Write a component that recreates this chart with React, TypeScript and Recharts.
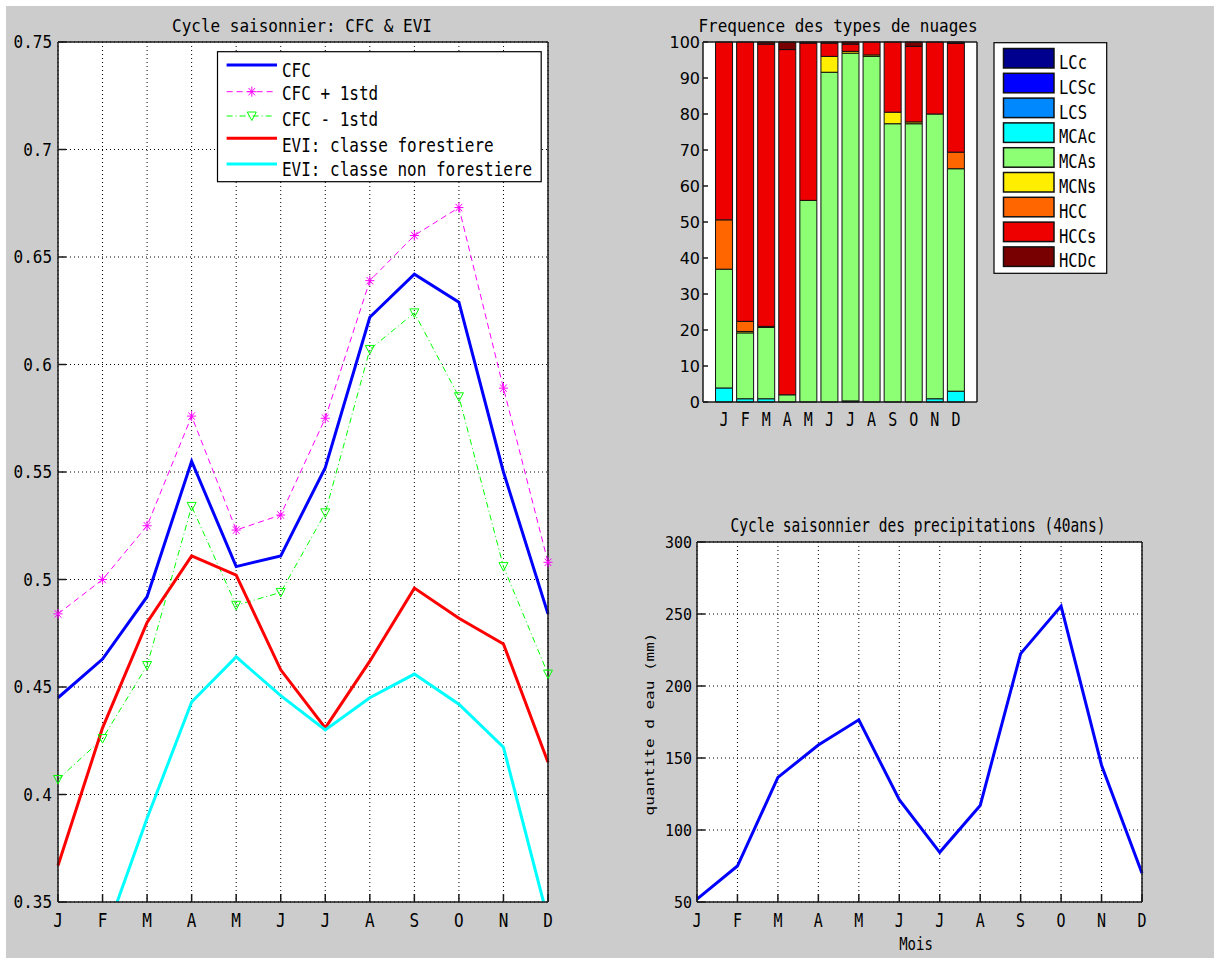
import React from 'react';
import { LineChart, Line, XAxis, YAxis, CartesianGrid, BarChart, Bar } from 'recharts';

const MONO = '"DejaVu Sans Mono", "Liberation Mono", monospace';
const SANS = '"DejaVu Sans", "Liberation Sans", sans-serif';

// ---------- data ----------
const months = ['J', 'F', 'M', 'A', 'M', 'J', 'J', 'A', 'S', 'O', 'N', 'D'];
const monthNumbers = [1, 2, 3, 4, 5, 6, 7, 8, 9, 10, 11, 12];

const cfc = [0.445, 0.463, 0.492, 0.555, 0.506, 0.511, 0.552, 0.622, 0.642, 0.629, 0.55, 0.484];
const cfcPlus = [0.484, 0.5, 0.525, 0.576, 0.523, 0.53, 0.575, 0.639, 0.66, 0.673, 0.589, 0.508];
const cfcMinus = [0.407, 0.426, 0.46, 0.534, 0.488, 0.494, 0.531, 0.607, 0.624, 0.585, 0.506, 0.456];
const eviForest = [0.367, 0.431, 0.48, 0.511, 0.502, 0.458, 0.431, 0.462, 0.496, 0.482, 0.47, 0.415];
const eviNonForest = [0.315, 0.331, 0.389, 0.443, 0.464, 0.446, 0.43, 0.445, 0.456, 0.442, 0.422, 0.342];
const cfcTicks = [0.35, 0.4, 0.45, 0.5, 0.55, 0.6, 0.65, 0.7, 0.75];

const LCc = [0, 0, 0, 0, 0, 0, 0.3, 0, 0, 0, 0, 0];
const LCSc = [0, 0, 0, 0, 0, 0, 0, 0, 0, 0, 0, 0];
const LCS = [0, 0, 0, 0, 0, 0, 0, 0, 0, 0, 0, 0];
const MCAc = [3.9, 0.9, 0.9, 0, 0, 0, 0, 0, 0, 0, 0.9, 3.0];
const MCAs = [33.0, 18.3, 19.8, 2.0, 56.0, 91.6, 96.6, 96.0, 77.3, 77.3, 79.1, 61.8];
const MCNs = [0, 0.4, 0.3, 0, 0, 4.4, 0.5, 0.4, 3.2, 0.5, 0, 0];
const HCC = [13.7, 2.8, 0, 0, 0, 0, 0, 0, 0, 0, 0, 4.6];
const HCCs = [49.4, 77.6, 78.4, 95.9, 43.7, 3.7, 2.0, 3.6, 19.5, 21.0, 20.0, 30.2];
const HCDc = [0, 0, 0.6, 2.1, 0.3, 0.3, 0.6, 0, 0, 1.2, 0, 0.4];
const cloudTypes = ['LCc', 'LCSc', 'LCS', 'MCAc', 'MCAs', 'MCNs', 'HCC', 'HCCs', 'HCDc'];
const cloudColors = ['#00008f', '#0000ff', '#0088ff', '#00ffff', '#8cff74', '#ffee00', '#ff6600', '#ee0000', '#780000'];
const cloudSeries = [LCc, LCSc, LCS, MCAc, MCAs, MCNs, HCC, HCCs, HCDc];
const cloudTicks = [0, 10, 20, 30, 40, 50, 60, 70, 80, 90, 100];

const precip = [52, 75, 136.5, 159, 176.5, 121, 84.5, 117, 222.5, 255.5, 145, 70];
const rainTicks = [50, 100, 150, 200, 250, 300];

const lineData = monthNumbers.map((x, i) => ({
  x,
  cfc: cfc[i],
  cfcPlus: cfcPlus[i],
  cfcMinus: cfcMinus[i],
  forest: eviForest[i],
  nonForest: eviNonForest[i],
}));
const barData = monthNumbers.map((x, i) => {
  const row: any = { x };
  cloudTypes.forEach((t, k) => (row[t] = cloudSeries[k][i]));
  return row;
});
const rainData = monthNumbers.map((x, i) => ({ x, p: precip[i] }));

// ---------- helpers ----------
const AXL = { stroke: '#1a1a1a', strokeWidth: 1.5 };

function T(props: {
  x: number; y: number; size: number; sy?: number; anchor?: 'start' | 'middle' | 'end';
  family?: string; rotate?: number; children: React.ReactNode;
}) {
  const { x, y, size, sy = 1, anchor = 'start', family = MONO, rotate = 0, children } = props;
  return (
    <text
      transform={`translate(${x},${y}) rotate(${rotate}) scale(1,${sy})`}
      fontFamily={family}
      fontSize={size}
      textAnchor={anchor}
      fill="#000"
    >
      {children}
    </text>
  );
}

function makeTick(o: { fs: number; sy: number; dx: number; dy: number; anchor: 'start' | 'middle' | 'end'; fmt: (v: number) => string; family?: string }) {
  return (p: any) => (
    <T x={p.x + o.dx} y={p.y + o.dy} size={o.fs} sy={o.sy} anchor={o.anchor} family={o.family}>
      {o.fmt(p.payload.value)}
    </T>
  );
}
const monthFmt = (v: number) => months[Math.round(v) - 1] ?? '';

const Star = (p: any) => {
  const { cx, cy } = p;
  if (cx == null || cy == null) return <g key={p.index} />;
  return (
    <g key={p.index} stroke="#ff00ff" strokeWidth={1}>
      <line x1={cx - 4.5} y1={cy} x2={cx + 4.5} y2={cy} />
      <line x1={cx} y1={cy - 5} x2={cx} y2={cy + 5} />
      <line x1={cx - 3.3} y1={cy - 3.7} x2={cx + 3.3} y2={cy + 3.7} />
      <line x1={cx - 3.3} y1={cy + 3.7} x2={cx + 3.3} y2={cy - 3.7} />
    </g>
  );
};
const TriDown = (p: any) => {
  const { cx, cy } = p;
  if (cx == null || cy == null) return <g key={p.index} />;
  return (
    <polygon
      key={p.index}
      points={`${cx - 4.5},${cy - 4} ${cx + 4.5},${cy - 4} ${cx},${cy + 4.5}`}
      fill="none"
      stroke="#00ff00"
      strokeWidth={1}
    />
  );
};

const legendRows = [
  { label: 'CFC', color: '#0000ff', width: 3, dash: undefined as string | undefined, marker: '', lineY: 65, textY: 76.7 },
  { label: 'CFC + 1std', color: '#ff00ff', width: 1, dash: '6 4', marker: 'star', lineY: 91.7, textY: 100 },
  { label: 'CFC - 1std', color: '#00ff00', width: 1, dash: '6 3 1 3', marker: 'tri', lineY: 116, textY: 126 },
  { label: 'EVI: classe forestiere', color: '#ff0000', width: 3, dash: undefined, marker: '', lineY: 138.3, textY: 151.7 },
  { label: 'EVI: classe non forestiere', color: '#00ffff', width: 3, dash: undefined, marker: '', lineY: 164, textY: 175.7 },
];

export default function App() {
  return (
    <div style={{ position: 'absolute', left: 0, top: 0, width: 1214, height: 958, background: '#fff' }}>
      <div style={{ position: 'absolute', left: 6, top: 6, width: 1208, height: 952, background: '#cccccc' }} />

      {/* Left: CFC & EVI */}
      <div style={{ position: 'absolute', left: 0, top: 0 }}>
        <LineChart width={600} height={958} data={lineData} margin={{ top: 40, right: 50, bottom: 26, left: 8 }}>
          <CartesianGrid stroke="#000" strokeDasharray="1 3" fill="#fff" fillOpacity={1} />
          <XAxis
            dataKey="x" type="number" domain={[1, 12]} ticks={monthNumbers} interval={0} height={30}
            tickSize={-8} tickMargin={8} axisLine={AXL} tickLine={AXL}
            tick={makeTick({ fs: 16, sy: 1.25, dx: 0, dy: 24.5, anchor: 'middle', fmt: monthFmt })}
          />
          <XAxis
            xAxisId="t" orientation="top" dataKey="x" type="number" domain={[1, 12]} ticks={monthNumbers} interval={0}
            height={2} tickSize={-8} axisLine={AXL} tickLine={AXL} tick={false}
          />
          <YAxis
            type="number" domain={[0.35, 0.75]} ticks={cfcTicks} interval={0} allowDataOverflow width={50}
            tickSize={-8} tickMargin={8} axisLine={AXL} tickLine={AXL}
            tick={makeTick({ fs: 16, sy: 1.1, dx: -6, dy: 6.4, anchor: 'end', fmt: (v) => String(v) })}
          />
          <YAxis
            yAxisId="r" orientation="right" type="number" domain={[0.35, 0.75]} ticks={cfcTicks} interval={0}
            allowDataOverflow width={2} tickSize={-8} axisLine={AXL} tickLine={AXL} tick={false}
          />
          <Line type="linear" dataKey="cfc" stroke="#0000ff" strokeWidth={3} dot={false} isAnimationActive={false} />
          <Line type="linear" dataKey="cfcPlus" stroke="#ff00ff" strokeWidth={1} strokeDasharray="6 4" dot={Star} isAnimationActive={false} />
          <Line type="linear" dataKey="cfcMinus" stroke="#00ff00" strokeWidth={1} strokeDasharray="6 3 1 3" dot={TriDown} isAnimationActive={false} />
          <Line type="linear" dataKey="forest" stroke="#ff0000" strokeWidth={3} dot={false} isAnimationActive={false} />
          <Line type="linear" dataKey="nonForest" stroke="#00ffff" strokeWidth={3} dot={false} isAnimationActive={false} />
        </LineChart>
      </div>

      {/* Top right: cloud type frequency */}
      <div style={{ position: 'absolute', left: 640, top: 0 }}>
        <BarChart width={360} height={440} data={barData} margin={{ top: 40, right: 21, bottom: 8, left: 8 }}>
          <CartesianGrid horizontal={false} vertical={false} fill="#fff" fillOpacity={1} />
          <XAxis
            dataKey="x" type="number" domain={[0, 13]} ticks={monthNumbers} interval={0} height={30}
            tickSize={0} tickMargin={0} axisLine={AXL} tickLine={false}
            tick={makeTick({ fs: 15, sy: 1.35, dx: 0, dy: 23.5, anchor: 'middle', fmt: monthFmt })}
          />
          <XAxis
            xAxisId="t" orientation="top" dataKey="x" type="number" domain={[0, 13]} ticks={monthNumbers} interval={0}
            height={2} axisLine={AXL} tickLine={false} tick={false}
          />
          <YAxis
            type="number" domain={[0, 100]} ticks={cloudTicks} interval={0} width={55}
            tickSize={-5} tickMargin={8} axisLine={AXL} tickLine={AXL}
            tick={makeTick({ fs: 16, sy: 1, dx: 0, dy: 5.8, anchor: 'end', fmt: (v) => String(v), family: SANS })}
          />
          <YAxis
            yAxisId="r" orientation="right" type="number" domain={[0, 100]} ticks={cloudTicks} interval={0}
            width={2} tickSize={-5} axisLine={AXL} tickLine={AXL} tick={false}
          />
          {cloudTypes.map((t, i) => (
            <Bar
              key={t} dataKey={t} stackId="s" fill={cloudColors[i]} stroke="#111" strokeWidth={1}
              barSize={17} isAnimationActive={false}
            />
          ))}
        </BarChart>
      </div>

      {/* Bottom right: precipitation */}
      <div style={{ position: 'absolute', left: 620, top: 500 }}>
        <LineChart width={560} height={458} data={rainData} margin={{ top: 40, right: 36, bottom: 26, left: 27 }}>
          <CartesianGrid stroke="#000" strokeDasharray="1 3" fill="#fff" fillOpacity={1} />
          <XAxis
            dataKey="x" type="number" domain={[1, 12]} ticks={monthNumbers} interval={0} height={30}
            tickSize={-8} tickMargin={8} axisLine={AXL} tickLine={AXL}
            tick={makeTick({ fs: 15, sy: 1.35, dx: 0, dy: 24.5, anchor: 'middle', fmt: monthFmt })}
          />
          <XAxis
            xAxisId="t" orientation="top" dataKey="x" type="number" domain={[1, 12]} ticks={monthNumbers} interval={0}
            height={2} tickSize={-8} axisLine={AXL} tickLine={AXL} tick={false}
          />
          <YAxis
            type="number" domain={[50, 300]} ticks={rainTicks} interval={0} width={50}
            tickSize={-8} tickMargin={13} axisLine={AXL} tickLine={AXL}
            tick={makeTick({ fs: 15, sy: 1.05, dx: 0, dy: 5.6, anchor: 'end', fmt: (v) => String(v) })}
          />
          <YAxis
            yAxisId="r" orientation="right" type="number" domain={[50, 300]} ticks={rainTicks} interval={0}
            width={2} tickSize={-8} axisLine={AXL} tickLine={AXL} tick={false}
          />
          <Line type="linear" dataKey="p" stroke="#0000ff" strokeWidth={3} dot={false} isAnimationActive={false} />
        </LineChart>
      </div>

      {/* Titles, labels, legends */}
      <svg width={1214} height={958} style={{ position: 'absolute', left: 0, top: 0, pointerEvents: 'none' }}>
        <T x={302} y={31.7} size={16} sy={1.15} anchor="middle">Cycle saisonnier: CFC &amp; EVI</T>
        <T x={838} y={31.7} size={16} sy={1.05} anchor="middle">Frequence des types de nuages</T>
        <T x={918} y={532.3} size={14.5} sy={1.3} anchor="middle">Cycle saisonnier des precipitations (40ans)</T>
        <T x={916} y={950} size={14} sy={1.3} anchor="middle">Mois</T>
        <T x={654} y={724} size={16} sy={0.8} rotate={-90} anchor="middle">quantite d eau (mm)</T>

        {/* left legend */}
        <rect x={217.5} y={51.7} width={323.7} height={130} fill="#fff" stroke="#000" strokeWidth={1.2} />
        {legendRows.map((r) => (
          <g key={r.label}>
            <line x1={226.6} x2={r.marker ? 273 : 277} y1={r.lineY} y2={r.lineY} stroke={r.color} strokeWidth={r.width} strokeDasharray={r.dash} />
            {r.marker === 'star' && <Star cx={251.8} cy={r.lineY} index="ls" />}
            {r.marker === 'tri' && <TriDown cx={251.8} cy={r.lineY} index="lt" />}
            <T x={282} y={r.textY} size={16} sy={1.2}>{r.label}</T>
          </g>
        ))}

        {/* cloud legend */}
        <rect x={994} y={42.7} width={112.7} height={230.6} fill="#fff" stroke="#000" strokeWidth={1.2} />
        {cloudTypes.map((t, i) => (
          <g key={t}>
            <rect x={1003.5} y={48.5 + i * 24.8} width={50.5} height={19.5} fill={cloudColors[i]} stroke="#111" strokeWidth={1.5} />
            <T x={1059} y={69 + i * 24.8} size={15.5} sy={1.3}>{t}</T>
          </g>
        ))}
      </svg>
    </div>
  );
}
